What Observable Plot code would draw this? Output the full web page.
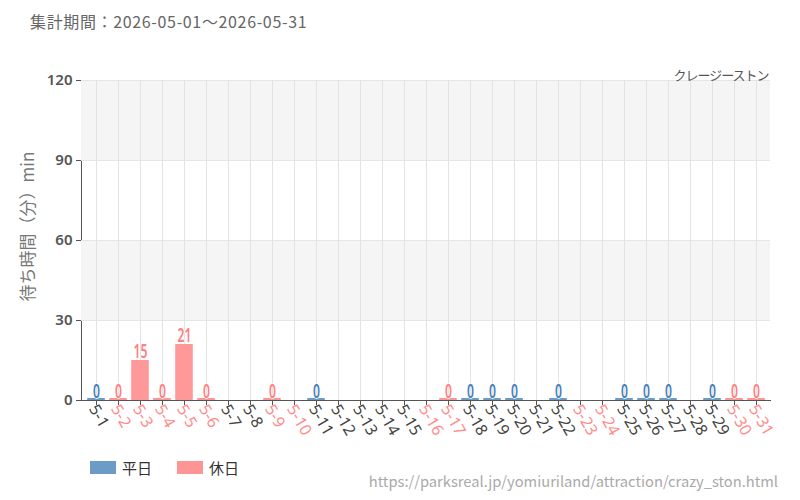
<!DOCTYPE html>
<html>
<head>
<meta charset="utf-8">
<script src="https://cdn.jsdelivr.net/npm/d3@7"></script>
<script src="https://cdn.jsdelivr.net/npm/@observablehq/plot@0.6"></script>
<style>
  html, body { margin: 0; padding: 0; background: #fff; }
  body { width: 800px; height: 500px; position: relative; overflow: hidden; font-family: "Noto Sans CJK JP", "Noto Sans", sans-serif; }
  #title { position: absolute; left: 30px; top: 10px; font-size: 16px; line-height: 22px; color: #666; letter-spacing: 0.65px; }
  #chart { position: absolute; left: 0; top: 45px; }
  #chart svg text { text-spacing-trim: space-all; }
  #legend { position: absolute; left: 90px; top: 457px; display: flex; align-items: center; font-size: 15px; color: #333; }
  #legend .sw { width: 26px; height: 13px; margin-right: 6px; }
  #legend .item { display: flex; align-items: center; margin-right: 25px; }
  #source { position: absolute; right: 22px; top: 470px; font-size: 14.7px; color: #aaa; font-family: "Noto Sans CJK JP", sans-serif; }
</style>
</head>
<body>
<div id="title"></div>
<div id="chart"></div>
<div id="legend"></div>
<div id="source"></div>
<script>
const titleText = "集計期間：2026-05-01～2026-05-31";
const attractionName = "クレージーストン";
const yLabel = "待ち時間（分）min";
const sourceText = "https://parksreal.jp/yomiuriland/attraction/crazy_ston.html";

const days = ["5-1","5-2","5-3","5-4","5-5","5-6","5-7","5-8","5-9","5-10",
  "5-11","5-12","5-13","5-14","5-15","5-16","5-17","5-18","5-19","5-20",
  "5-21","5-22","5-23","5-24","5-25","5-26","5-27","5-28","5-29","5-30","5-31"];
const waitMinutes = [0,0,15,0,21,0,null,null,0,null,
  0,null,null,null,null,null,0,0,0,0,
  null,0,null,null,0,0,0,null,0,0,0];
const holiday = [0,1,1,1,1,1,0,0,1,1,
  0,0,0,0,0,1,1,0,0,0,
  0,0,1,1,0,0,0,0,0,1,1];
const yTicks = [0, 30, 60, 90, 120];
const seriesNames = ["平日", "休日"];
const barColors = ["#6b9bc6", "#ff9494"];
const valueColors = ["#4680b9", "#ff8080"];
const labelColors = ["#444444", "#ff8c8c"];

document.getElementById("title").textContent = titleText;
document.getElementById("source").textContent = sourceText;
const legend = document.getElementById("legend");
seriesNames.forEach((n, i) => {
  const it = document.createElement("div"); it.className = "item";
  const sw = document.createElement("div"); sw.className = "sw"; sw.style.background = barColors[i];
  const tx = document.createElement("span"); tx.textContent = n;
  it.appendChild(sw); it.appendChild(tx); legend.appendChild(it);
});

const data = days.map((d, i) => ({day: d, value: waitMinutes[i], hol: holiday[i]}));
const measured = data.filter(d => d.value != null);
const bandLo = [30, 90];
const bandHi = [60, 120];
const bands = bandLo.map((v, i) => ({y1: v, y2: bandHi[i]}));

const chart = Plot.plot({
  width: 800,
  height: 410,
  marginTop: 35,
  marginBottom: 55,
  marginLeft: 81,
  marginRight: 30,
  style: {fontFamily: "'Noto Sans', 'Noto Sans CJK JP', sans-serif", fontSize: "14px", color: "#555", background: "transparent", overflow: "visible"},
  x: {type: "band", domain: days, padding: 0, tickSize: 5, tickFormat: () => "", line: true, label: null},
  y: {domain: [0, 120], ticks: yTicks, tickSize: 5, tickPadding: 4, line: true, label: null},
  color: {type: "identity"},
  marks: [
    Plot.rect(bands, {y1: "y1", y2: "y2", fill: "#f5f5f5"}),
    Plot.ruleY(yTicks.filter(v => v > 0), {stroke: "#e6e6e6"}),
    Plot.ruleX(days, {stroke: "#e3e3e3"}),
    Plot.barY(measured.filter(d => d.value > 0), {x: "day", y: "value", fill: d => barColors[d.hol], fillOpacity: 0.95, insetLeft: 2.2, insetRight: 2.2}),
    Plot.barY(measured.filter(d => d.value === 0), {x: "day", y: "value", fill: d => barColors[d.hol], insetTop: -2, insetLeft: 2.2, insetRight: 2.2}),
    Plot.text(measured, {x: "day", y: "value", text: d => String(d.value), dy: -8.5,
      fill: d => valueColors[d.hol], stroke: "white", strokeWidth: 1.5, paintOrder: "stroke",
      fontSize: 19, fontWeight: 600, fontFamily: "'Noto Sans', sans-serif", ariaDescription: "value-labels"}),
    Plot.text(data, {x: "day", frameAnchor: "bottom", text: "day", rotate: 60, textAnchor: "start", dx: -8, dy: 8,
      fill: d => labelColors[d.hol], fontSize: 16}),
    Plot.text([yLabel], {frameAnchor: "left", text: d => d, rotate: -90, textAnchor: "middle", dx: -53, dy: -14,
      fill: "#777", fontSize: 17, fontFamily: "'Noto Sans CJK JP', sans-serif", ariaDescription: "y-label"}),
    Plot.text([attractionName], {frameAnchor: "top-right", text: d => d, textAnchor: "end", dx: -2, dy: -10,
      fill: "#555", fontSize: 13, fontFamily: "'Noto Sans CJK JP', sans-serif", ariaDescription: "attraction-name"})
  ]
});
document.getElementById("chart").appendChild(chart);
const svg = d3.select(chart);
svg.selectAll('[aria-label="y-axis"] text, [aria-label="y-axis tick label"] text')
  .attr("font-weight", 600).attr("font-size", 15).attr("fill", "#555");
function textsMarked(desc) {
  const out = [];
  chart.querySelectorAll(`[aria-description="${desc}"]`).forEach(n => {
    if (n.tagName.toLowerCase() === "text") out.push(n);
    else n.querySelectorAll("text").forEach(t => out.push(t));
  });
  return out;
}
// condense the value labels horizontally
textsMarked("value-labels").forEach(node => {
  const el = d3.select(node);
  let t = el.attr("transform");
  if (!t) {
    t = `translate(${el.attr("x") || 0},${el.attr("y") || 0})`;
    el.attr("x", null).attr("y", null);
  }
  el.attr("transform", t + " scale(0.64,1)");
});
textsMarked("attraction-name").forEach(n => n.setAttribute("letter-spacing", "-1px"));
textsMarked("y-label").forEach(n => {
  if (n.getComputedTextLength() < 140) {
    n.setAttribute("textLength", 147);
    n.setAttribute("lengthAdjust", "spacing");
  }
});
</script>
</body>
</html>
